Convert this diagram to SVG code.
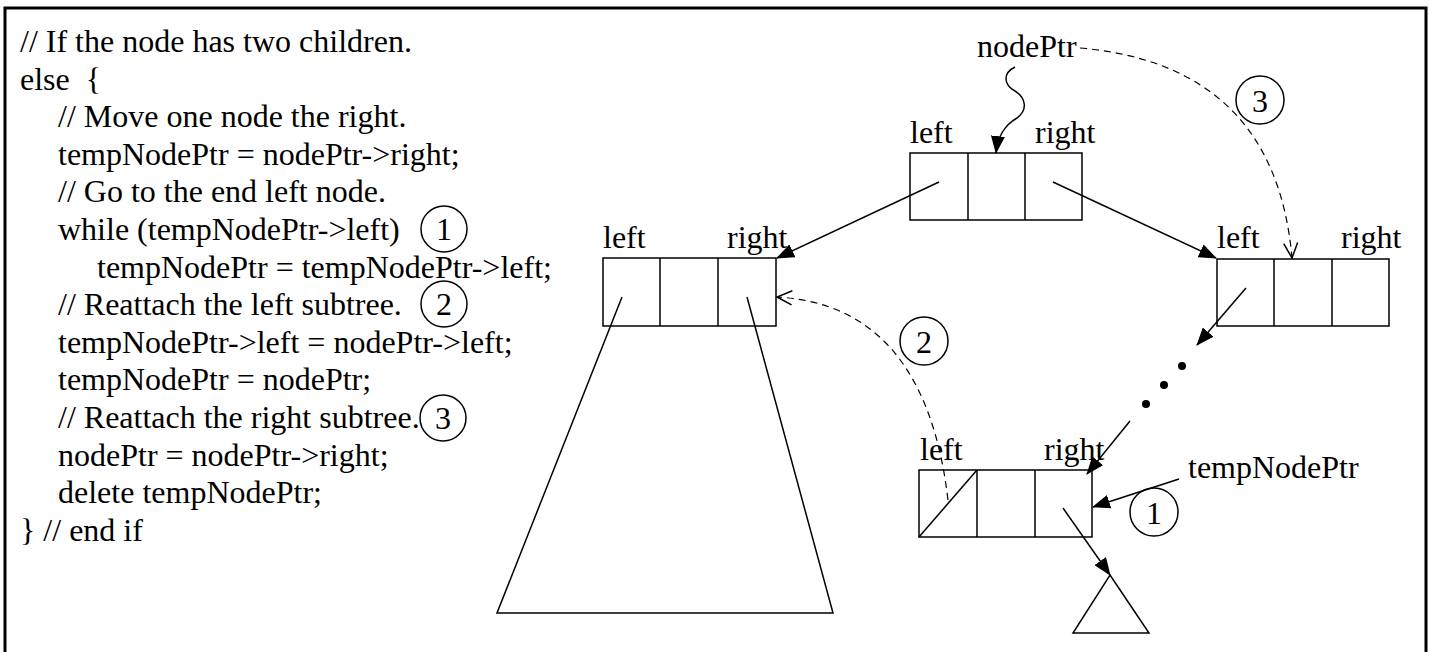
<svg xmlns="http://www.w3.org/2000/svg" width="1430" height="652" viewBox="0 0 1430 652">
<defs>
<style>
text{font-family:"Liberation Serif","Times New Roman",serif;font-size:32px;fill:#000}
.code{white-space:pre}
.box{fill:#fff;stroke:#000;stroke-width:1.5}
.ln{fill:none;stroke:#000;stroke-width:1.5}
.dash{fill:none;stroke:#000;stroke-width:1.2;stroke-dasharray:7 5}
.circ{fill:none;stroke:#000;stroke-width:1.5}
.num{text-anchor:middle}
</style>
<marker id="fa" markerUnits="userSpaceOnUse" markerWidth="18" markerHeight="14" refX="17" refY="7" orient="auto" viewBox="0 0 18 14">
<path d="M0,0 L18,7 L0,14 z" fill="#000"/>
</marker>
<marker id="oa" markerUnits="userSpaceOnUse" markerWidth="18" markerHeight="16" refX="16" refY="8" orient="auto" viewBox="0 0 18 16">
<path d="M1,1 L16,8 L1,15" fill="none" stroke="#000" stroke-width="1.5"/>
</marker>
</defs>
<rect width="1430" height="652" fill="#fff"/>
<rect x="5" y="8" width="1421" height="700" fill="none" stroke="#000" stroke-width="3"/>

<g id="code">
<text class="code" x="20" y="52">// If the node has two children.</text>
<text class="code" x="20" y="89.6">else  {</text>
<text class="code" x="58" y="127.2">// Move one node the right.</text>
<text class="code" x="58" y="164.8">tempNodePtr = nodePtr-&gt;right;</text>
<text class="code" x="58" y="202.4">// Go to the end left node.</text>
<text class="code" x="58" y="240">while (tempNodePtr-&gt;left)</text>
<text class="code" x="97" y="277.6">tempNodePtr = tempNodePtr-&gt;left;</text>
<text class="code" x="58" y="315.2">// Reattach the left subtree.</text>
<text class="code" x="58" y="352.8">tempNodePtr-&gt;left = nodePtr-&gt;left;</text>
<text class="code" x="58" y="390.4">tempNodePtr = nodePtr;</text>
<text class="code" x="58" y="428">// Reattach the right subtree.</text>
<text class="code" x="58" y="465.6">nodePtr = nodePtr-&gt;right;</text>
<text class="code" x="58" y="503.2">delete tempNodePtr;</text>
<text class="code" x="20" y="540.8">} // end if</text>
</g>

<g id="code-step1">
<circle class="circ" cx="444" cy="229" r="23"/>
<text class="num" x="444" y="240">1</text>
</g>
<g id="code-step2">
<circle class="circ" cx="444" cy="304" r="23"/>
<text class="num" x="444" y="315">2</text>
</g>
<g id="code-step3">
<circle class="circ" cx="443" cy="418" r="23"/>
<text class="num" x="443" y="429">3</text>
</g>

<g id="nodePtr-label">
<text x="977" y="57">nodePtr</text>
</g>

<g id="root-node">
<text x="910" y="143">left</text>
<text x="1035" y="143">right</text>
<rect class="box" x="910" y="153" width="172" height="67"/>
<line class="ln" x1="968" y1="153" x2="968" y2="220"/>
<line class="ln" x1="1025" y1="153" x2="1025" y2="220"/>
</g>

<g id="left-node">
<text x="603" y="248">left</text>
<text x="727" y="248">right</text>
<rect class="box" x="603" y="258" width="173" height="68"/>
<line class="ln" x1="660" y1="258" x2="660" y2="326"/>
<line class="ln" x1="718" y1="258" x2="718" y2="326"/>
</g>

<g id="left-subtree">
<path class="ln" d="M622,297 L497,613 L833,613 L747,297"/>
</g>

<g id="right-node">
<text x="1217" y="248">left</text>
<text x="1341" y="248">right</text>
<rect class="box" x="1217" y="259" width="172" height="67"/>
<line class="ln" x1="1274" y1="259" x2="1274" y2="326"/>
<line class="ln" x1="1332" y1="259" x2="1332" y2="326"/>
</g>

<g id="ellipsis">
<circle cx="1182" cy="366" r="4"/>
<circle cx="1164" cy="385" r="4"/>
<circle cx="1146" cy="404" r="4"/>
</g>

<g id="end-node">
<text x="920" y="460">left</text>
<text x="1044" y="460">right</text>
<rect class="box" x="919" y="470" width="173" height="67"/>
<line class="ln" x1="977" y1="470" x2="977" y2="537"/>
<line class="ln" x1="1035" y1="470" x2="1035" y2="537"/>
<line class="ln" x1="919" y1="537" x2="977" y2="470"/>
</g>

<g id="right-subtree">
<path class="ln" d="M1110,575 L1149,633 L1073,633 z"/>
</g>

<g id="tempNodePtr-label">
<text x="1188" y="478">tempNodePtr</text>
</g>

<g id="diagram-step1">
<circle class="circ" cx="1154" cy="512" r="24"/>
<text class="num" x="1154" y="524">1</text>
</g>
<g id="diagram-step2">
<circle class="circ" cx="924" cy="341" r="24"/>
<text class="num" x="924" y="353">2</text>
</g>
<g id="diagram-step3">
<circle class="circ" cx="1260" cy="100" r="24"/>
<text class="num" x="1260" y="112">3</text>
</g>

<g id="connectors">
<path class="ln" d="M1015,67 C1003,73 1003,84 1015,91 C1026,98 1028,110 1017,118 C1005,125 998,135 996,153" marker-end="url(#fa)"/>
<line class="ln" x1="939" y1="182" x2="777" y2="258" marker-end="url(#fa)"/>
<line class="ln" x1="1053" y1="182" x2="1216" y2="258" marker-end="url(#fa)"/>
<line class="ln" x1="1246" y1="288" x2="1197" y2="345" marker-end="url(#fa)"/>
<line class="ln" x1="1130" y1="421" x2="1087" y2="474" marker-end="url(#fa)"/>
<line class="ln" x1="1179" y1="479" x2="1093" y2="507" marker-end="url(#fa)"/>
<line class="ln" x1="1063" y1="508" x2="1110" y2="575" marker-end="url(#fa)"/>
<path class="dash" d="M1080,48 Q1275,65 1292,258" marker-end="url(#oa)"/>
<path class="dash" d="M948,500 Q925,305 777,297" marker-end="url(#oa)"/>
</g>
</svg>
